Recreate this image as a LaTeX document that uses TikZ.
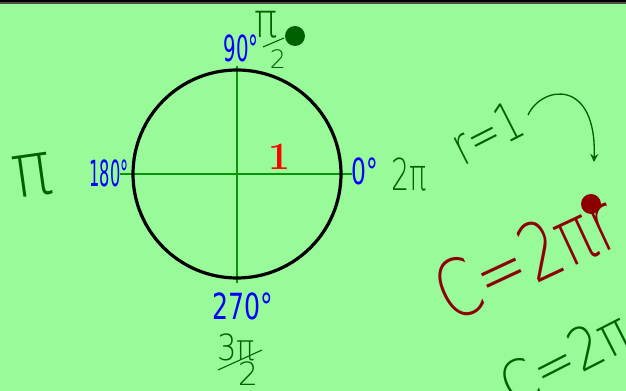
\documentclass[tikz,border=0pt]{standalone}
\usetikzlibrary{arrows.meta}
\usepackage{fontspec}
\usepackage{graphicx}
\setsansfont{DejaVu Sans}
\IfFontExistsTF{DejaVu Sans ExtraLight}
  {\newfontfamily\handfont{DejaVu Sans ExtraLight}}
  {\IfFontExistsTF{Fira Sans Light}
     {\newfontfamily\handfont{Fira Sans Light}}
     {\newfontfamily\handfont{Fira Sans}}}
\definecolor{bgg}{RGB}{153,250,153}
\definecolor{axg}{RGB}{10,150,10}
\definecolor{dg}{RGB}{0,95,0}
\definecolor{dr}{RGB}{140,0,0}
\definecolor{hb}{RGB}{0,0,255}
\tikzset{
  blue label/.style={text=hb, font=\sffamily\fontsize{27}{27}\selectfont, inner sep=0pt},
  green hand/.style={text=dg, inner sep=0pt},
  dotmark/.style={circle, inner sep=0pt, minimum size=15pt},
}
\newcommand{\nx}[2]{\scalebox{#1}[1]{#2}}
\newcommand{\hs}[1]{\handfont\fontsize{#1}{#1}\selectfont}
\begin{document}
\begin{tikzpicture}[x=0.75pt,y=-0.75pt]
\useasboundingbox (0,0) rectangle (626,391);
\clip (0,0) rectangle (626,391);
\fill[bgg] (0,0) rectangle (626,391);
\fill[black] (0,0) rectangle (626,2.5);
\fill[gray!60!black] (0,2.5) rectangle (626,4);
% axes
\coordinate (L) at (120,174);
\coordinate (R) at (352,174);
\coordinate (T) at (237,66);
\coordinate (B) at (237,283);
\draw[axg, line width=1.1pt] (L) -- (R);
\draw[axg, line width=1.1pt] (T) -- (B);
% circle
\node[circle, draw=black, line width=2.4pt, minimum size=156pt, inner sep=0pt] (circ) at (237,174) {};
% blue degree labels
\node[blue label] (n90) at (241,48) {\nx{0.55}{90°}};
\node[blue label] (n0) at (365,171) {\nx{0.65}{0°}};
\node[blue label] (n180) at (109,173) {\nx{0.45}{180°}};
\node[blue label] (n270) at (243,306) {\nx{0.7}{270°}};
\node[text=red, font=\rmfamily\bfseries\fontsize{29}{29}\selectfont, inner sep=0pt] (one) at (279,157) {1};
% pi/2 at top
\node[green hand, font=\hs{36}] (pitop) at (266,25) {\nx{0.8}{π}};
\coordinate (fa1) at (263,47);
\coordinate (fa2) at (284,38);
\draw[dg, line width=0.8pt] (fa1) -- (fa2);
\node[green hand, font=\hs{19}] (twotop) at (278,59) {2};
\node[dotmark, fill=dg] (gdot) at (295,36) {};
% pi left
\node[green hand, font=\hs{57}, rotate=8] (pileft) at (32,176) {\nx{0.87}{π}};
% 2pi right
\node[green hand, font=\hs{33}] (twopi) at (409,174) {\nx{0.65}{2π}};
% 3pi/2 bottom
\node[green hand, font=\hs{27}] (threepi) at (236,347) {\nx{0.85}{3π}};
\coordinate (fb1) at (218,370);
\coordinate (fb2) at (262,350);
\draw[dg, line width=0.8pt] (fb1) -- (fb2);
\node[green hand, font=\hs{24}] (twobot) at (248,374) {2};
% r=1
\node[green hand, font=\hs{40}, rotate=27] (r1) at (487,133) {\nx{0.72}{r=1}};
\coordinate (ahead) at (594,162);
\draw[dg, line width=1pt, -{Stealth[length=6pt,width=6pt]}] (528,115) .. controls (542,85) and (597,78) .. (ahead);
% C = 2 pi r red
\node[text=dr, inner sep=0pt, font=\hs{60}, rotate=25] (cred) at (526,257) {\nx{0.75}{C=2πr}};
\node[dotmark, fill=dr] (rdot) at (591,204) {};
% C = 2 pi green
\node[text=dg, inner sep=0pt, font=\hs{44}, rotate=27] (cgreen) at (565,358) {\nx{0.85}{C=2π}};
\end{tikzpicture}
\end{document}
